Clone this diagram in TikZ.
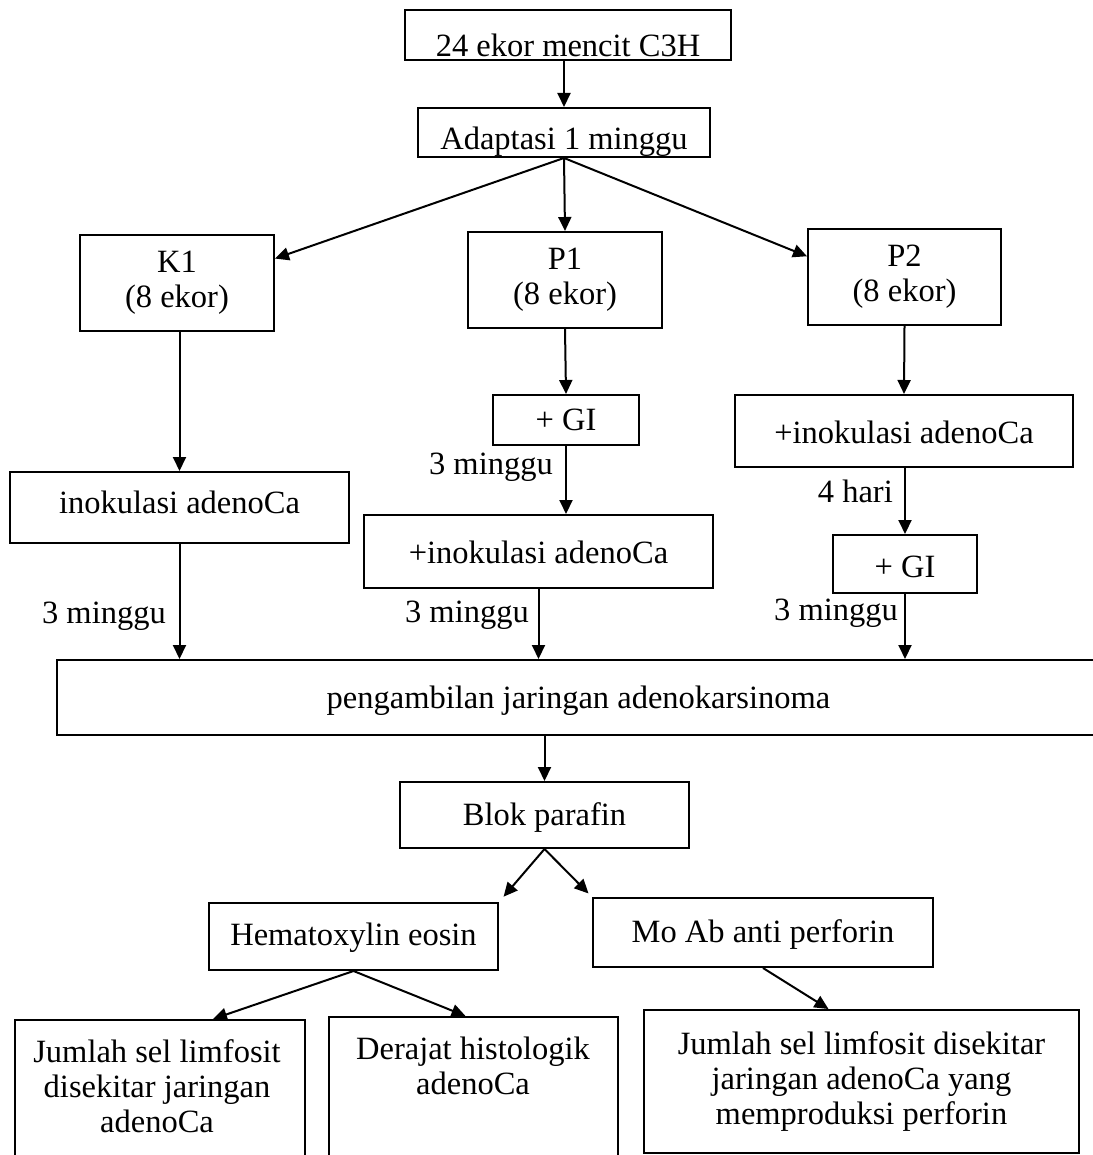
\documentclass[tikz,border=0pt]{standalone}
\usepackage{fontspec}
\setmainfont{Liberation Serif}
\usetikzlibrary{arrows.meta,calc}
\begin{document}
\begin{tikzpicture}[x=1pt,y=-1pt,
  every node/.style={font=\fontsize{32.5pt}{35pt}\selectfont, inner sep=0pt},
  box/.style={draw, line width=2pt},
  bl/.style={text height=#1, text depth=0pt},
  arr/.style={line width=2pt, -{Triangle[length=14pt,width=13pt]}},
  lbl/.style={anchor=base east}]
\fill[white] (0,0) rectangle (1092,1155);
\useasboundingbox (0,0) rectangle (1092,1155);

% --- start and adaptation ---
\node[box, minimum width=326pt, minimum height=50pt, bl=44pt] (top) at (568,35) {24 ekor mencit C3H};
\node[box, minimum width=292pt, minimum height=49pt, bl=35pt] (adapt) at (564,132.5) {Adaptasi 1 minggu};

% --- three groups ---
\node[box, align=center, minimum width=194pt, minimum height=96pt] (k1) at (177,283) {K1\\(8 ekor)};
\node[box, align=center, minimum width=194pt, minimum height=96pt] (p1) at (565,280) {P1\\(8 ekor)};
\node[box, align=center, minimum width=193pt, minimum height=96pt] (p2) at (904.5,277) {P2\\(8 ekor)};

% --- treatments ---
\node[box, minimum width=339pt, minimum height=71pt, bl=12pt] (k1inok) at (179.5,507.5) {inokulasi adenoCa};
\node[box, minimum width=146pt, minimum height=50pt, bl=20pt] (gi1) at (566,420) {+ GI};
\node[box, minimum width=349pt, minimum height=73pt, bl=23pt] (p1inok) at (538.5,551.5) {+inokulasi adenoCa};
\node[box, minimum width=338pt, minimum height=72pt, bl=24pt] (p2inok) at (904,431) {+inokulasi adenoCa};
\node[box, minimum width=144pt, minimum height=58pt, bl=26pt] (gi2) at (905,564) {+ GI};

% --- tissue processing ---
\node[box, minimum width=1043pt, minimum height=75pt, bl=21pt] (peng) at (578.5,697.5) {pengambilan jaringan adenokarsinoma};
\node[box, minimum width=289pt, minimum height=66pt, bl=20pt] (blok) at (544.5,815) {Blok parafin};
\node[box, minimum width=289pt, minimum height=67pt, bl=17pt] (hem) at (353.5,936.5) {Hematoxylin eosin};
\node[box, minimum width=340pt, minimum height=69pt, bl=19pt] (moab) at (763,932.5) {Mo Ab anti perforin};

% --- outcome boxes ---
\node[box, minimum width=290pt, minimum height=145pt] (b1) at (160,1092.5) {};
\node[anchor=north, align=center] (b1t) at (157,1039) {Jumlah sel limfosit\\disekitar jaringan\\adenoCa};
\node[box, minimum width=289pt, minimum height=148pt] (b2) at (473.5,1091) {};
\node[anchor=north, align=center] (b2t) at (473,1037) {Derajat histologik\\adenoCa};
\node[box, align=center, minimum width=435pt, minimum height=143pt] (b3) at (861.5,1081.5) {Jumlah sel limfosit disekitar\\jaringan adenoCa yang\\memproduksi perforin};

% --- connectors ---
\draw[arr] (adapt.north |- top.south) -- (adapt.north);
\draw[arr] (adapt.south) -- (k1.14);
\draw[arr] (adapt.south) -- (p1.north);
\draw[arr] (adapt.south) -- (p2.168);

\draw[arr] (k1inok.north |- k1.south) -- (k1inok.north);
\draw[arr] (p1.south) -- (gi1.north);
\draw[arr] (gi1.south) -- (gi1.south |- p1inok.north);
\draw[arr] (p2.south) -- (p2inok.north);
\draw[arr] (gi2.north |- p2inok.south) -- (gi2.north);

\draw[arr] (k1inok.south) -- (k1inok.south |- peng.north);
\draw[arr] (p1inok.south) -- (p1inok.south |- peng.north);
\draw[arr] (gi2.south) -- (gi2.south |- peng.north);

\draw[arr] (blok.north |- peng.south) -- (blok.north);
\draw[arr, shorten >=7pt] (blok.south) -- (hem.north east);
\draw[arr, shorten >=5pt] (blok.south) -- (moab.north west);

\draw[arr] (hem.south) -- ($(b1.north)+(53,0)$);
\draw[arr] (hem.south) -- ($(b2.north)+(-8,0)$);
\draw[arr] (moab.south) -- ($(b3.north)+(-33,0)$);

% --- interval labels ---
\node[lbl] (lk1) at (166,623) {3 minggu};
\node[lbl] (lp1a) at (553,474) {3 minggu};
\node[lbl] (lp1b) at (529,622) {3 minggu};
\node[lbl] (lp2a) at (893,502) {4 hari};
\node[lbl] (lp2b) at (898,620) {3 minggu};
\end{tikzpicture}
\end{document}
